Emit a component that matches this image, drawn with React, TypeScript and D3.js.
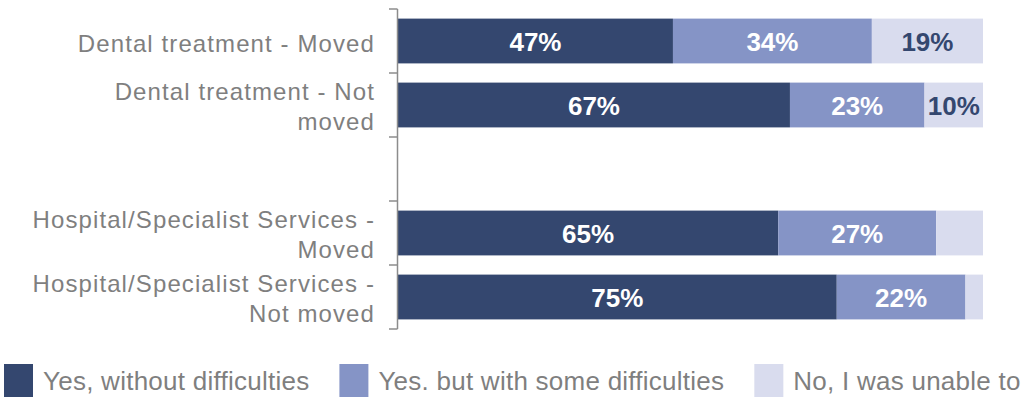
import React from "react";
import * as d3 from "d3";

const categories: string[][] = [
  ["Dental treatment - Moved"],
  ["Dental treatment - Not", "moved"],
  [""],
  ["Hospital/Specialist Services -", "Moved"],
  ["Hospital/Specialist Services -", "Not moved"],
];
const withoutDifficulties: (number | null)[] = [47, 67, null, 65, 75];
const withDifficulties: (number | null)[] = [34, 23, null, 27, 22];
const unable: (number | null)[] = [19, 10, null, 8, 3];
const seriesNames = ["Yes, without difficulties", "Yes. but with some difficulties", "No, I was unable to"];
const colors = ["#34476f", "#8594c6", "#d9dcee"];
const labelColors = ["#ffffff", "#ffffff", "#34476f"];

const W = 1036;
const H = 397;
const FONT = "Arial, 'Liberation Sans', sans-serif";

function measure(text: string, font: string, spacing: number): number {
  const c = document.createElement("canvas").getContext("2d");
  if (!c) return text.length * 12;
  c.font = font;
  return c.measureText(text).width + spacing * text.length;
}

export default function App() {
  const y = d3
    .scaleBand<number>()
    .domain(d3.range(categories.length))
    .range([9, 329])
    .paddingInner(0.3)
    .paddingOuter(0.15);
  const x = d3.scaleLinear().domain([0, 100]).range([398, 983]);
  const step = y.step();
  const axisTop = 9;
  const tickYs = d3.range(categories.length + 1).map((i) => axisTop + i * step);

  const series = [withoutDifficulties, withDifficulties, unable];
  const rows = categories.map((_, i) => {
    let acc = 0;
    return series.map((s, k) => {
      const v = s[i];
      const x0 = acc;
      acc += v ?? 0;
      return { v, x0, x1: acc, k };
    });
  });

  // legend layout
  const legendSize = 26;
  const legendSpacing = 0.25;
  const legendFont = `${legendSize}px ${FONT}`;
  let lx = 4;
  const legendItems = seriesNames.map((name, k) => {
    const item = { name, k, sx: lx, tx: lx + 39 };
    lx = item.tx + measure(name, legendFont, legendSpacing) + 30;
    return item;
  });

  return (
    <svg width={W} height={H} style={{ position: "absolute", left: 0, top: 0 }} fontFamily={FONT}>
      <rect width={W} height={H} fill="#ffffff" />
      {rows.map((segs, i) =>
        segs.map((s) =>
          s.v == null ? null : (
            <g key={`${i}-${s.k}`}>
              <rect
                x={x(s.x0)}
                y={y(i)}
                width={x(s.x1) - x(s.x0)}
                height={y.bandwidth()}
                fill={colors[s.k]}
              />
              {s.v >= 10 && (
                <text
                  x={(x(s.x0) + x(s.x1)) / 2}
                  y={(y(i) as number) + y.bandwidth() / 2 + 9.5}
                  textAnchor="middle"
                  fontSize={26}
                  fontWeight="bold"
                  fill={labelColors[s.k]}
                >
                  {s.v}%
                </text>
              )}
            </g>
          )
        )
      )}
      {/* axis */}
      <line x1={397.5} x2={397.5} y1={tickYs[0]} y2={tickYs[tickYs.length - 1]} stroke="#8c8c8c" strokeWidth={1.5} />
      {tickYs.map((t, i) => (
        <line key={i} x1={389} x2={397.5} y1={t} y2={t} stroke="#8c8c8c" strokeWidth={1.5} />
      ))}
      {categories.map((lines, i) => {
        const c = (y(i) as number) + y.bandwidth() / 2;
        const first = lines.length === 1 ? c + 11 : c - 5;
        return (
          <text key={i} textAnchor="end" fontSize={24} fill="#7f7f7f" letterSpacing={1.1}>
            {lines.map((ln, j) => (
              <tspan key={j} x={375} y={first + j * 30}>
                {ln}
              </tspan>
            ))}
          </text>
        );
      })}
      {legendItems.map((it) => (
        <g key={it.k}>
          <rect x={it.sx} y={364} width={29} height={33} fill={colors[it.k]} />
          <text x={it.tx} y={390} fontSize={legendSize} fill="#7f7f7f" letterSpacing={legendSpacing}>
            {it.name}
          </text>
        </g>
      ))}
    </svg>
  );
}
